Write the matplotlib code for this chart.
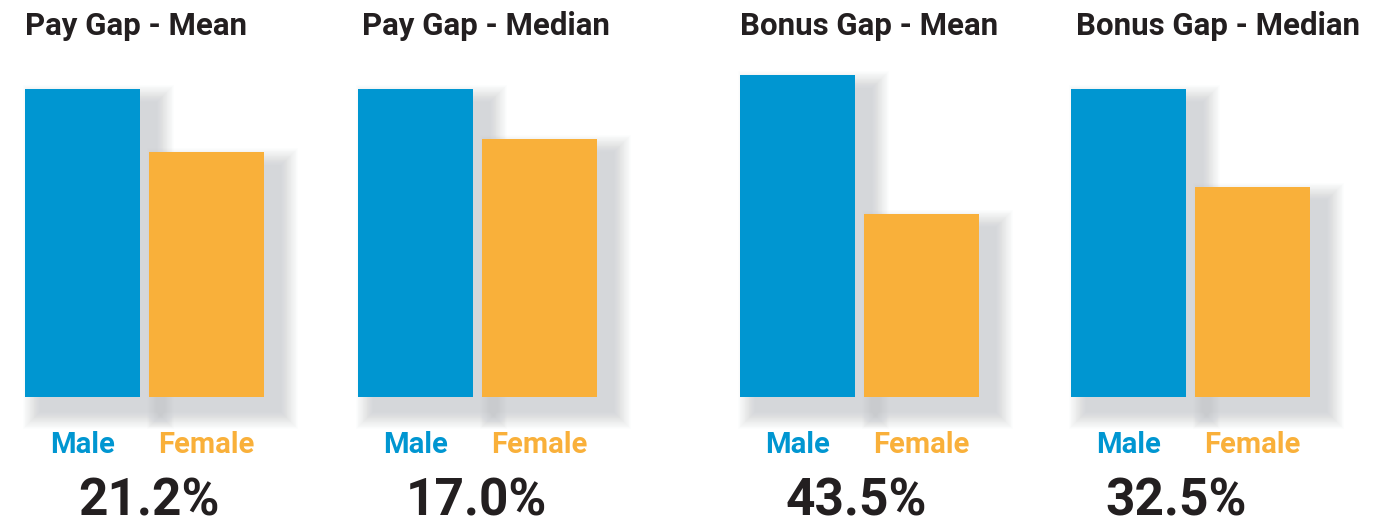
import matplotlib
matplotlib.use("Agg")
import matplotlib.pyplot as plt

# chart data (bar heights as an index, male bar of a panel = 100)
titles = ["Pay Gap - Mean", "Pay Gap - Median", "Bonus Gap - Mean", "Bonus Gap - Median"]
male = [100, 100, 104.5, 100]
female = [79.5, 83.8, 59.4, 68.2]
gap_labels = ["21.2%", "17.0%", "43.5%", "32.5%"]
series_labels = ["Male", "Female"]

# layout (pixels)
W, H = 1398, 527
panel_left = [25, 358, 740, 1071]
title_dx = [0, 4, 0, 5]
pct_x = [124, 118, 116, 105]
bar_w = 115
bar_x = [57.5, 181.5]
base_y = 130          # bar baseline, px from bottom
px_per_unit = 3.08

BLUE = "#0096d1"
ORANGE = "#f9b03a"
DARK = "#231f20"
SHADOW = "#b4b7bd"


def draw_panel(ax, i):
    ax.set_xlim(0, 330)
    ax.set_ylim(0, H)
    ax.axis("off")

    heights = [male[i] * px_per_unit, female[i] * px_per_unit]

    # soft drop shadow made of stacked transparent bars
    dx, dy, blur, n = 16, 14, 18, 22
    for k in range(n):
        pad = blur * (1 - k / n)
        ax.bar([x + dx for x in bar_x], [h + 2 * pad for h in heights],
               width=bar_w + 2 * pad, bottom=base_y - dy - pad,
               color=SHADOW, alpha=0.028, linewidth=0, clip_on=False)

    ax.bar(bar_x, heights, width=bar_w, bottom=base_y,
           color=[BLUE, ORANGE], linewidth=0, clip_on=False)

    ax.text(title_dx[i], 492, titles[i], ha="left", va="baseline",
            fontsize=22.5, fontweight="bold", color=DARK, family="Roboto")
    for x, lab, c in zip(bar_x, series_labels, [BLUE, ORANGE]):
        ax.text(x, 74, lab, ha="center", va="baseline", fontsize=21,
                fontweight="bold", color=c, family="Roboto")
    ax.text(pct_x[i], 11, gap_labels[i], ha="center", va="baseline",
            fontsize=37, fontweight="bold", color=DARK, family="Roboto")


def main():
    fig = plt.figure(figsize=(W / 100, H / 100), dpi=100)
    fig.patch.set_facecolor("white")
    for i in range(len(titles)):
        ax = fig.add_axes([panel_left[i] / W, 0, 330 / W, 1])
        draw_panel(ax, i)
    fig.savefig("out.png", dpi=100, facecolor="white")


if __name__ == "__main__":
    main()
